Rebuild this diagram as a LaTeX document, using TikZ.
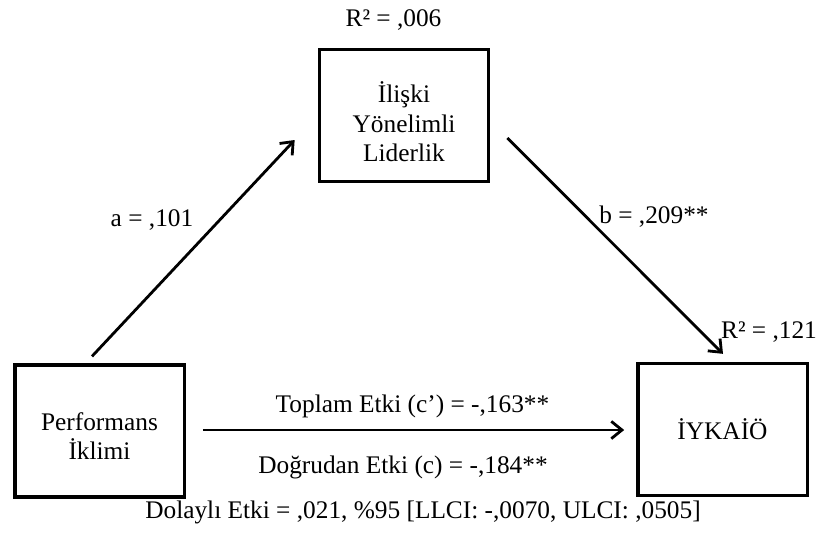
\documentclass[tikz,border=0pt]{standalone}
\usepackage{fontspec}
\setmainfont{Liberation Serif}
\usetikzlibrary{arrows.meta}
\tikzset{box/.style={draw,line width=2.5pt,minimum width=127pt,minimum height=99pt,align=center,inner sep=0pt,font=\lbl},
    arr/.style={line width=2.1pt,-{Straight Barb[length=8pt,width=13pt,line width=2.1pt]}},
    lab/.style={anchor=north,inner sep=0.75pt,font=\lbl}}
\newcommand{\lbl}{\fontsize{19}{22}\selectfont}

\begin{document}
\begin{tikzpicture}[x=0.75pt,y=0.75pt,yscale=-1,xscale=1]
\useasboundingbox (0,0) rectangle (839,533);

%Shape: Rectangle [mediator]
\node [box] (iliski) at (404,115.5) {\rule{0pt}{25pt}İlişki\\Yönelimli\\Liderlik};
%Shape: Rectangle [independent]
\node [box] (perf) at (99.5,431) {\rule{0pt}{21pt}Performans\\İklimi};
%Shape: Rectangle [dependent]
\node [box] (ykaio) at (722.5,429.5) {İYKAİÖ};

%Straight Lines [a path]
\draw [arr] ([shift={(-7.5,-7)}]perf.north) -- ([shift={(-23,24.5)}]iliski.west);
%Straight Lines [b path]
\draw [arr] ([shift={(17,22.5)}]iliski.east) -- ([shift={(0.5,-8)}]ykaio.north);
%Straight Lines [c path]
\draw [arr] ([shift={(17,-1)}]perf.east) -- ([shift={(-12,0.5)}]ykaio.west);

% Text Node
\node [lab] (r2med) at (393.5,8) {R² = ,006};
% Text Node
\node [lab] (lbla) at (152,208) {a = ,101};
% Text Node
\node [lab] (lblb) at (654,205) {b = ,209**};
% Text Node
\node [lab] (r2out) at (769,320) {R² = ,121};
% Text Node
\node [lab] (toplam) at (412.5,394) {Toplam Etki (c’) = -,163**};
% Text Node
\node [lab] (dogrudan) at (403,455) {Doğrudan Etki (c) = -,184**};
% Text Node
\node [lab] (dolayli) at (423,500) {Dolaylı Etki = ,021, \%95 [LLCI: -,0070, ULCI: ,0505]};

\end{tikzpicture}
\end{document}
